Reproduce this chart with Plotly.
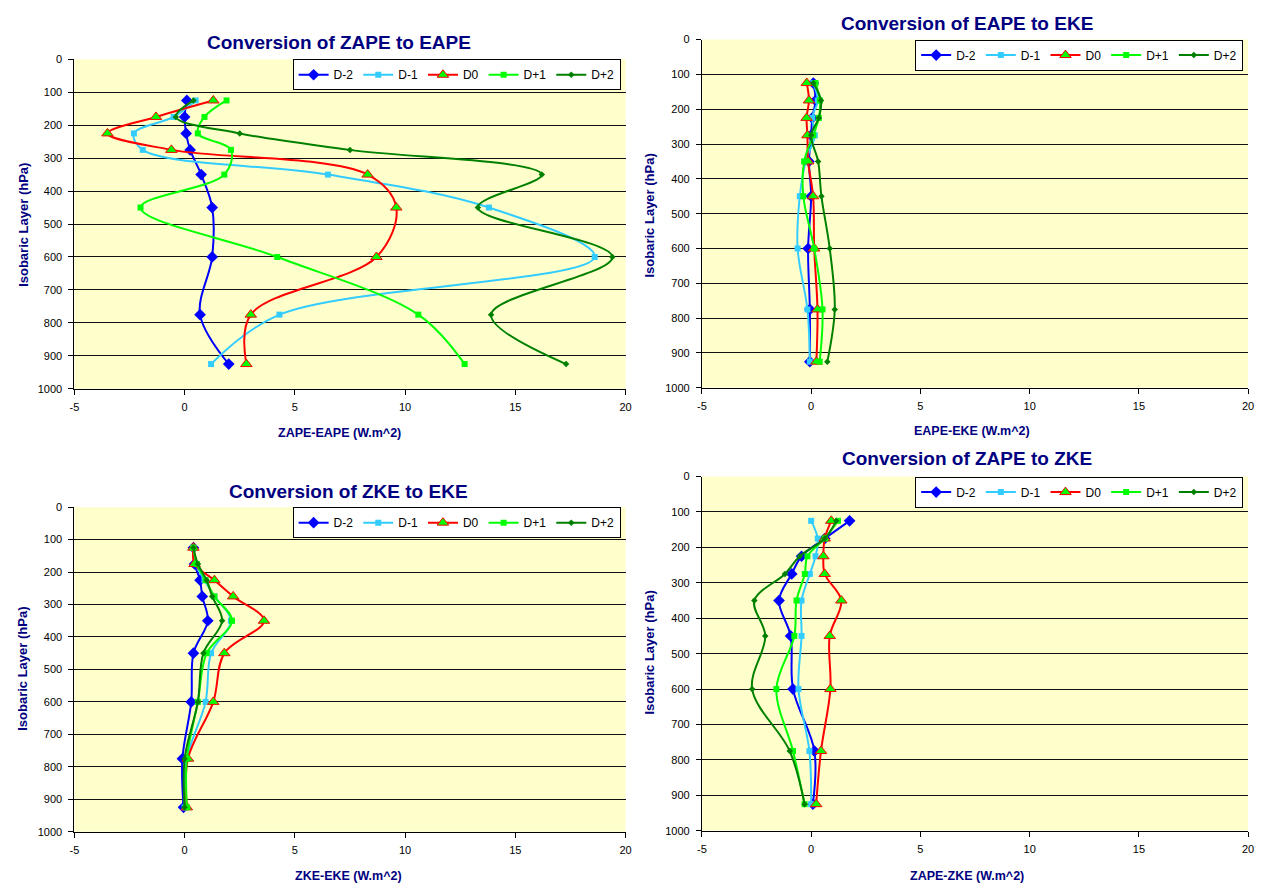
import plotly.graph_objects as go

W, H = 1269, 890

levels = [125, 175, 225, 275, 350, 450, 600, 775, 925]
series_names = ["D-2", "D-1", "D0", "D+1", "D+2"]

# Panel 1: Conversion of ZAPE to EAPE
p1_d_2 = [0.1, 0.0, 0.07, 0.25, 0.75, 1.25, 1.25, 0.7, 2.0]
p1_d_1 = [0.5, -0.5, -2.3, -1.9, 6.5, 13.8, 18.6, 4.3, 1.2]
p1_d0 = [1.3, -1.3, -3.5, -0.6, 8.3, 9.6, 8.7, 3.0, 2.8]
p1_dp1 = [1.9, 0.9, 0.6, 2.1, 1.8, -2.0, 4.2, 10.6, 12.7]
p1_dp2 = [0.4, -0.4, 2.5, 7.5, 16.2, 13.3, 19.4, 13.9, 17.3]

# Panel 2: Conversion of EAPE to EKE
p2_d_2 = [0.1, 0.2, 0.05, 0.0, -0.1, 0.0, -0.14, -0.06, -0.06]
p2_d_1 = [0.1, 0.3, 0.05, 0.17, -0.25, -0.52, -0.62, -0.17, -0.06]
p2_d0 = [-0.2, -0.1, -0.21, -0.17, -0.14, 0.09, 0.14, 0.29, 0.24]
p2_dp1 = [0.2, 0.4, 0.35, 0.1, -0.32, -0.36, 0.14, 0.52, 0.39]
p2_dp2 = [0.1, 0.45, 0.35, 0.0, 0.32, 0.47, 0.85, 1.08, 0.74]

# Panel 3: Conversion of ZKE to EKE
p3_d_2 = [0.4, 0.45, 0.7, 0.8, 1.05, 0.4, 0.3, -0.1, -0.05]
p3_d_1 = [0.4, 0.5, 0.9, 1.35, 2.1, 1.2, 0.95, 0.1, 0.0]
p3_d0 = [0.4, 0.45, 1.35, 2.2, 3.6, 1.8, 1.3, 0.15, 0.1]
p3_dp1 = [0.4, 0.55, 0.95, 1.35, 2.15, 1.0, 0.6, 0.1, 0.1]
p3_dp2 = [0.4, 0.6, 1.0, 1.25, 1.7, 0.85, 0.6, 0.0, 0.0]

# Panel 4: Conversion of ZAPE to ZKE
p4_d_2 = [1.76, 0.62, -0.44, -0.89, -1.47, -0.94, -0.83, 0.15, 0.08]
p4_d_1 = [0.0, 0.3, 0.2, -0.06, -0.44, -0.44, -0.58, -0.08, 0.0]
p4_d0 = [0.92, 0.62, 0.56, 0.62, 1.38, 0.85, 0.88, 0.45, 0.23]
p4_dp1 = [1.23, 0.62, -0.17, -0.29, -0.67, -0.77, -1.59, -0.83, -0.3]
p4_dp2 = [1.15, 0.62, -0.52, -1.2, -2.6, -2.1, -2.7, -0.98, -0.3]

titles = ["Conversion of ZAPE to EAPE", "Conversion of EAPE to EKE",
          "Conversion of ZKE to EKE", "Conversion of ZAPE to ZKE"]
xtitles = ["ZAPE-EAPE (W.m^2)", "EAPE-EKE (W.m^2)",
           "ZKE-EKE (W.m^2)", "ZAPE-ZKE (W.m^2)"]
ytitle = "Isobaric Layer (hPa)"
x_ticks = [-5, 0, 5, 10, 15, 20]
x_ticktext = ["-5", "0", "5", "10", "15", "20"]
y_ticks = [0, 100, 200, 300, 400, 500, 600, 700, 800, 900, 1000]

panels = [
    [p1_d_2, p1_d_1, p1_d0, p1_dp1, p1_dp2],
    [p2_d_2, p2_d_1, p2_d0, p2_dp1, p2_dp2],
    [p3_d_2, p3_d_1, p3_d0, p3_dp1, p3_dp2],
    [p4_d_2, p4_d_1, p4_d0, p4_dp1, p4_dp2],
]

styles = [
    dict(line=dict(color="#0000FF", width=2),
         marker=dict(symbol="diamond", size=9, color="#0000FF")),
    dict(line=dict(color="#33CCFF", width=2),
         marker=dict(symbol="square", size=6, color="#33CCFF")),
    dict(line=dict(color="#FF0000", width=2),
         marker=dict(symbol="triangle-up", size=10, color="#00FF00",
                     line=dict(color="#FF0000", width=1))),
    dict(line=dict(color="#00FF00", width=2),
         marker=dict(symbol="square", size=6, color="#00FF00")),
    dict(line=dict(color="#008000", width=2),
         marker=dict(symbol="diamond", size=5, color="#008000")),
]

# plot-area boxes in pixels (left, right, top, bottom)
boxes = [(70, 626, 54, 388), (703, 1254, 34, 387),
         (70, 626, 508, 837), (703, 1254, 477, 836)]
title_pos = [(337, 37), (970, 18), (346, 492), (970, 459)]
xtitle_pos = [(337, 433), (975, 431), (346, 882), (970, 882)]
ytitle_pos = [(18, 222), (650, 212), (18, 672), (650, 655)]

NAVY = "#000080"
FONT = "Liberation Sans, Arial, sans-serif"

fig = go.Figure()
layout = dict(width=W, height=H, margin=dict(l=0, r=0, t=0, b=0),
              paper_bgcolor="white", plot_bgcolor="#FFFFCC",
              font=dict(family=FONT, size=11, color="black"),
              annotations=[])


def ann(text, pos, size, angle=0):
    return dict(text="<b>%s</b>" % text, x=pos[0] / W, y=1 - pos[1] / H,
                xref="paper", yref="paper", showarrow=False,
                xanchor="center", yanchor="middle", textangle=angle,
                font=dict(size=size, color=NAVY, family=FONT))


for i, data in enumerate(panels):
    k = "" if i == 0 else str(i + 1)
    leg = "legend" + k
    for name, vals, st in zip(series_names, data, styles):
        fig.add_trace(go.Scatter(
            x=vals, y=levels, name=name, mode="lines+markers",
            line=dict(shape="spline", **st["line"]), marker=st["marker"],
            xaxis="x" + k, yaxis="y" + k, legend=leg, cliponaxis=False))
    l, r, t, b = boxes[i]
    layout["xaxis" + k] = dict(
        domain=[l / W, r / W], anchor="y" + k, range=[-5, 20],
        tickvals=x_ticks, ticktext=x_ticktext, showgrid=False, zeroline=False,
        showline=True, linecolor="black", linewidth=1,
        ticks="outside", ticklen=5, tickcolor="black",
        ticklabelstandoff=3,
        tickfont=dict(size=11, family=FONT))
    layout["yaxis" + k] = dict(
        domain=[1 - b / H, 1 - t / H], anchor="x" + k, range=[1000, 0],
        tickvals=y_ticks, showgrid=True, gridcolor="#111111", gridwidth=1,
        zeroline=False, showline=True, linecolor="black", linewidth=1,
        ticks="outside", ticklen=5, tickcolor="black",
        ticklabelstandoff=4,
        tickfont=dict(size=11, family=FONT))
    layout[leg] = dict(
        orientation="h", x=(r - 5) / W, xanchor="right",
        y=1 - t / H, yanchor="top", bgcolor="white",
        bordercolor="black", borderwidth=1,
        font=dict(size=12, family=FONT, color="black"),
        itemwidth=30, tracegroupgap=0)
    layout["annotations"].append(ann(titles[i], title_pos[i], 19))
    layout["annotations"].append(ann(xtitles[i], xtitle_pos[i], 12.5))
    layout["annotations"].append(ann(ytitle, ytitle_pos[i], 13, -90))

fig.update_layout(**layout)
fig.write_html("out.html", config={"displayModeBar": False},
               post_script="document.body.style.margin='0px';")
